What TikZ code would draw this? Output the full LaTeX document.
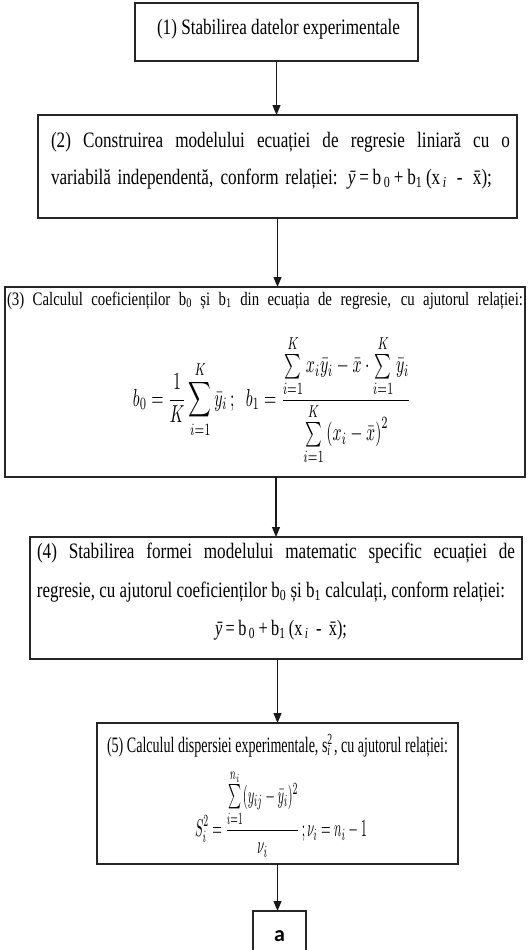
\documentclass[tikz,border=0pt]{standalone}
\usepackage{fontspec}
\setmainfont{Liberation Serif}[FakeStretch=0.78]
\newfontfamily\carl{Carlito}
\usepackage{graphicx}
\usetikzlibrary{arrows.meta}
\newlength\fitlen
\newcommand\fitline[2]{\settowidth\fitlen{#2}\ifdim\fitlen<#1\relax\makebox[#1][s]{#2}\else\resizebox{#1}{\height}{#2}\fi}
\newcommand\regf{{\itshape\=y}\,=\,b\textsubscript{\,0}\,+\,b\textsubscript{1}\,(x\textsubscript{\,\itshape i}\, -\, \=x);}
\begin{document}
\begin{tikzpicture}[x=1pt,y=-1pt,
  box/.style={draw=black!85,line width=1.6pt,inner sep=0pt,outer sep=0pt,rectangle},
  txt/.style={inner sep=0pt,outer sep=0pt,anchor=base west,font=\fontsize{22}{26}\selectfont},
  frm/.style={inner sep=0pt,outer sep=0pt,anchor=center},
  arr/.style={draw=black!90,line width=1.2pt,-{Triangle[length=10pt,width=8pt]}}]
\useasboundingbox (0,0) rectangle (530,950);
% boxes
\node[box,minimum width=283pt,minimum height=58pt] (b1) at (276.5,32) {};
\node[box,minimum width=479pt,minimum height=103pt] (b2) at (277.5,166.5) {};
\node[box,minimum width=520pt,minimum height=190pt] (b3) at (265,382) {};
\node[box,minimum width=492pt,minimum height=122pt] (b4) at (276,598) {};
\node[box,minimum width=361pt,minimum height=141pt] (b5) at (277.5,793.5) {};
\node[box,minimum width=53pt,minimum height=50pt,font=\carl\bfseries\fontsize{22}{26}\selectfont] (ba) at (279.5,936) {a};
% texts
\node[txt] (t1) at (157,35) {\fitline{243pt}{(1) Stabilirea datelor experimentale}};
\node[txt] (t2a) at (51,147) {\fitline{459pt}{(2) Construirea modelului ecuației de regresie liniară cu o}};
\node[txt] (t2b) at (51,184) {\fitline{441pt}{variabilă independentă, conform relației: \regf}};
\node[txt,font=\fontsize{19}{23}\selectfont] (t3a) at (7,305) {\fitline{516pt}{(3) Calculul coeficienților b\textsubscript{0} și b\textsubscript{1} din ecuația de regresie, cu ajutorul relației:}};
\node[frm] (f3) at (272,400) {\resizebox*{278pt}{130pt}{$\displaystyle b_0=\frac{1}{K}\sum_{i=1}^{K}\bar y_i\,;\;\; b_1=\frac{\sum\limits_{i=1}^{K}x_i\bar y_i-\bar x\cdot\sum\limits_{i=1}^{K}\bar y_i}{\sum\limits_{i=1}^{K}\left(x_i-\bar x\right)^2}$}};
\node[txt] (t4a) at (37,558) {\fitline{478pt}{(4) Stabilirea formei modelului matematic specific ecuației de}};
\node[txt] (t4b) at (37,597) {\fitline{468pt}{regresie, cu ajutorul coeficienților b\textsubscript{0} și b\textsubscript{1} calculați, conform relației:}};
\node[txt] (t4c) at (215,635) {\resizebox{132pt}{\height}{\regf}};
\node[txt] (t5a) at (107,752) {\fitline{341pt}{(5) Calculul dispersiei experimentale, s\rlap{\textsuperscript{2}}\textsubscript{\itshape i} , cu ajutorul relației:}};
\node[frm] (f5) at (281,813.5) {\resizebox*{172pt}{87pt}{$\displaystyle S_i^2=\frac{\sum\limits_{i=1}^{n_i}(y_{ij}-\bar y_i)^2}{\nu_i}\,;\nu_i=n_i-1$}};
% arrows
\draw[arr] (b1.south) -- (b1.south |- b2.north);
\draw[arr] (b2.south) -- (b2.south |- b3.north);
\draw[arr] (b4.north |- b3.south) -- (b4.north);
\draw[arr] (b5.north |- b4.south) -- (b5.north);
\draw[arr] (b5.south) -- (b5.south |- ba.north);
\end{tikzpicture}
\end{document}
